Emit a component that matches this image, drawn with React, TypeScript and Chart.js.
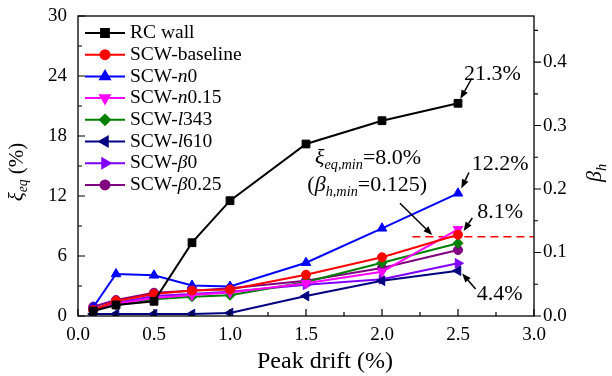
import React, { useEffect, useRef } from 'react';
import { Chart, registerables } from 'chart.js';
import { drawPoint } from 'chart.js/helpers';

Chart.register(...registerables);

// ---- data ----
const drift = [0.1, 0.25, 0.5, 0.75, 1.0, 1.5, 2.0, 2.5];
const rcWall = [0.5, 1.1, 1.47, 7.33, 11.53, 17.2, 19.53, 21.27];
const scwBaseline = [0.6, 1.5, 2.2, 2.55, 2.65, 4.13, 5.87, 8.13];
const scwN0 = [0.87, 4.2, 4.07, 3.05, 2.95, 5.33, 8.77, 12.27];
const scwN015 = [0.55, 1.2, 1.8, 2.1, 2.35, 3.27, 4.43, 8.67];
const scwL343 = [0.7, 1.07, 1.67, 1.93, 2.07, 3.4, 5.33, 7.27];
const scwL610 = [0.2, 0.2, 0.2, 0.2, 0.3, 2.0, 3.53, 4.53];
const scwBeta0 = [0.7, 1.3, 2.0, 2.2, 2.43, 3.13, 3.67, 5.27];
const scwBeta025 = [0.93, 1.6, 2.33, 2.53, 2.77, 3.53, 4.8, 6.6];

const seriesValues = [rcWall, scwBaseline, scwN0, scwN015, scwL343, scwL610, scwBeta0, scwBeta025];
const seriesNames = ['RC wall', 'SCW-baseline', 'SCW-n0', 'SCW-n0.15', 'SCW-l343', 'SCW-l610', 'SCW-β0', 'SCW-β0.25'];
const seriesColors = ['#000000', '#ff0000', '#0000ff', '#ff00ff', '#008000', '#000080', '#8000ff', '#800080'];
const seriesPointStyles = ['rect', 'circle', 'triangle', 'triangle', 'rectRot', 'triangle', 'triangle', 'circle'];
const seriesRotations = [0, 0, 0, 180, 0, -90, 90, 0];
const seriesRadii = [5.5, 4.5, 5.5, 5.5, 5, 5.5, 5.5, 4.5];

const xTickStep = 0.5;
const yTickStep = 6;
const y2TickStep = 0.1;
const xMax = 3;
const yMax = 30;
const y2Max = 0.4725;

const limitBeta = 0.125;
const limitStart = 2.2;

const pctLabels = ['21.3%', '12.2%', '8.1%', '4.4%'];
// text anchor [x, ξ] (left-middle) and arrow [x1, ξ1, x2, ξ2] in data units
const pctLabelPos = [[2.54, 24.2], [2.59, 15.2], [2.627, 10.4], [2.623, 2.15]];
const pctArrows = [
  [2.59, 23.75, 2.515, 21.7],
  [2.572, 14.35, 2.522, 12.75],
  [2.594, 9.8, 2.537, 8.5],
  [2.616, 2.7, 2.527, 4.25],
];
const minNotePos = [[1.559, 15.8], [1.509, 13.1]];
const minNoteArrow = [2.118, 11.27, 2.331, 8.1];

// ---- helpers ----
type Seg = { t: string; it?: boolean; sub?: boolean };
const FAMILY = '"Liberation Serif", "Times New Roman", serif';

function segFont(s: Seg, size: number) {
  const sz = s.sub ? size * 0.65 : size;
  return `${s.it ? 'italic ' : ''}${sz}px ${FAMILY}`;
}

function drawRich(ctx: CanvasRenderingContext2D, segs: Seg[], x: number, y: number, size: number, align: 'left' | 'center') {
  ctx.textBaseline = 'middle';
  ctx.textAlign = 'left';
  let w = 0;
  const widths = segs.map((s) => {
    ctx.font = segFont(s, size);
    const m = ctx.measureText(s.t).width;
    w += m;
    return m;
  });
  let cx = align === 'center' ? x - w / 2 : x;
  segs.forEach((s, i) => {
    ctx.font = segFont(s, size);
    ctx.fillText(s.t, cx, y + (s.sub ? size * 0.32 : 0));
    cx += widths[i];
  });
}

function parseName(name: string): Seg[] {
  if (name.startsWith('SCW-') && 'nlβ'.includes(name[4])) {
    return [{ t: 'SCW-' }, { t: name[4], it: true }, { t: name.slice(5) }];
  }
  return [{ t: name }];
}

function arrow(ctx: CanvasRenderingContext2D, x1: number, y1: number, x2: number, y2: number) {
  const ang = Math.atan2(y2 - y1, x2 - x1);
  const len = 9;
  const hw = 3.5;
  const bx = x2 - len * Math.cos(ang);
  const by = y2 - len * Math.sin(ang);
  ctx.beginPath();
  ctx.moveTo(x1, y1);
  ctx.lineTo(bx, by);
  ctx.lineWidth = 1.5;
  ctx.stroke();
  ctx.beginPath();
  ctx.moveTo(x2, y2);
  ctx.lineTo(bx + hw * Math.sin(ang), by - hw * Math.cos(ang));
  ctx.lineTo(bx - hw * Math.sin(ang), by + hw * Math.cos(ang));
  ctx.closePath();
  ctx.fill();
}

const decorPlugin = {
  id: 'decor',
  afterDraw(chart: any) {
    const ctx: CanvasRenderingContext2D = chart.ctx;
    const { left, right, top, bottom } = chart.chartArea;
    const xs = chart.scales.x;
    const ys = chart.scales.y;
    const y2s = chart.scales.y2;
    ctx.save();
    ctx.strokeStyle = '#000';
    ctx.fillStyle = '#000';
    ctx.lineWidth = 1.3;
    ctx.strokeRect(left, top, right - left, bottom - top);

    // ticks
    ctx.lineWidth = 1.2;
    ctx.beginPath();
    for (let v = 0; v <= xMax + 1e-9; v += xTickStep / 2) {
      const px = xs.getPixelForValue(v);
      const major = Math.abs(v / xTickStep - Math.round(v / xTickStep)) < 1e-6;
      ctx.moveTo(px, bottom);
      ctx.lineTo(px, bottom - (major ? 7 : 4));
    }
    for (let v = 0; v <= yMax + 1e-9; v += yTickStep / 2) {
      const py = ys.getPixelForValue(v);
      const major = Math.abs(v / yTickStep - Math.round(v / yTickStep)) < 1e-6;
      ctx.moveTo(left, py);
      ctx.lineTo(left + (major ? 7 : 4), py);
    }
    for (let v = 0; v <= y2Max + 1e-9; v += y2TickStep / 2) {
      const py = y2s.getPixelForValue(v);
      const major = Math.abs(v / y2TickStep - Math.round(v / y2TickStep)) < 1e-6;
      ctx.moveTo(right, py);
      ctx.lineTo(right + (major ? 7 : 4), py);
    }
    ctx.stroke();

    // legend
    const ds = chart.data.datasets;
    for (let i = 0; i < seriesNames.length; i++) {
      const d = ds[i];
      const ly = top + 17 + i * 21.7;
      const lx = left + 7;
      ctx.strokeStyle = d.borderColor;
      ctx.fillStyle = d.backgroundColor;
      ctx.lineWidth = 2;
      ctx.beginPath();
      ctx.moveTo(lx, ly);
      ctx.lineTo(lx + 40, ly);
      ctx.stroke();
      drawPoint(ctx, { pointStyle: d.pointStyle, rotation: d.rotation, radius: d.pointRadius, borderWidth: 1 }, lx + 20, ly);
      ctx.fillStyle = '#000';
      drawRich(ctx, parseName(seriesNames[i]), lx + 45, ly, 19.5, 'left');
    }

    // axis titles
    ctx.fillStyle = '#000';
    drawRich(ctx, [{ t: 'Peak drift (%)' }], 325, 362, 24, 'center');
    ctx.save();
    ctx.translate(17, 172);
    ctx.rotate(-Math.PI / 2);
    drawRich(ctx, [{ t: 'ξ', it: true }, { t: 'eq', it: true, sub: true }, { t: ' (%)' }], 0, 0, 21, 'center');
    ctx.restore();
    ctx.save();
    ctx.translate(595, 173);
    ctx.rotate(-Math.PI / 2);
    drawRich(ctx, [{ t: 'β', it: true }, { t: 'h', it: true, sub: true }], 0, 0, 22, 'center');
    ctx.restore();

    // annotations
    ctx.strokeStyle = '#000';
    ctx.fillStyle = '#000';
    pctLabels.forEach((t, i) => {
      const [tx, ty] = pctLabelPos[i];
      drawRich(ctx, [{ t }], xs.getPixelForValue(tx), ys.getPixelForValue(ty), 22, 'left');
      const a = pctArrows[i];
      arrow(ctx, xs.getPixelForValue(a[0]), ys.getPixelForValue(a[1]), xs.getPixelForValue(a[2]), ys.getPixelForValue(a[3]));
    });
    drawRich(
      ctx,
      [{ t: 'ξ', it: true }, { t: 'eq,min', it: true, sub: true }, { t: '=8.0%' }],
      xs.getPixelForValue(minNotePos[0][0]),
      ys.getPixelForValue(minNotePos[0][1]),
      22,
      'left'
    );
    drawRich(
      ctx,
      [{ t: '(' }, { t: 'β', it: true }, { t: 'h,min', it: true, sub: true }, { t: '=0.125)' }],
      xs.getPixelForValue(minNotePos[1][0]),
      ys.getPixelForValue(minNotePos[1][1]),
      22,
      'left'
    );
    arrow(
      ctx,
      xs.getPixelForValue(minNoteArrow[0]),
      ys.getPixelForValue(minNoteArrow[1]),
      xs.getPixelForValue(minNoteArrow[2]),
      ys.getPixelForValue(minNoteArrow[3])
    );
    ctx.restore();
  },
};

export default function App() {
  const ref = useRef<HTMLCanvasElement | null>(null);

  useEffect(() => {
    document.body.style.margin = '0';
    const canvas = ref.current;
    if (!canvas) return;
    const tickFont = { family: FAMILY, size: 19 };
    const datasets: any[] = seriesValues.map((vals, i) => ({
      label: seriesNames[i],
      data: drift.map((x, j) => ({ x, y: vals[j] })),
      borderColor: seriesColors[i],
      backgroundColor: seriesColors[i],
      pointBackgroundColor: seriesColors[i],
      pointBorderColor: seriesColors[i],
      borderWidth: 2,
      pointStyle: seriesPointStyles[i],
      rotation: seriesRotations[i],
      pointRadius: seriesRadii[i],
      pointBorderWidth: 1,
      yAxisID: 'y',
      tension: 0,
    }));
    datasets.push({
      label: 'limit',
      data: [
        { x: limitStart, y: limitBeta },
        { x: xMax, y: limitBeta },
      ],
      borderColor: '#ff0000',
      borderWidth: 1.5,
      borderDash: [8, 5],
      pointRadius: 0,
      yAxisID: 'y2',
    });
    const fitY = (s: any) => {
      s.width = 78;
      s.paddingTop = 0;
      s.paddingBottom = 0;
    };
    const chart = new Chart(canvas, {
      type: 'line',
      data: { datasets },
      options: {
        animation: false,
        responsive: false,
        devicePixelRatio: 1,
        layout: { padding: { top: 16, left: 0, right: 0, bottom: 0 } },
        plugins: { legend: { display: false }, tooltip: { enabled: false } },
        scales: {
          x: {
            type: 'linear',
            min: 0,
            max: xMax,
            grid: { display: false, drawTicks: false },
            border: { display: false },
            ticks: {
              stepSize: xTickStep,
              includeBounds: false,
              autoSkip: false,
              maxRotation: 0,
              padding: 8,
              color: '#000',
              font: tickFont,
              callback: (v: any) => Number(v).toFixed(1),
            },
            afterFit: (s: any) => {
              s.height = 60;
              s.paddingLeft = 0;
              s.paddingRight = 0;
            },
          },
          y: {
            type: 'linear',
            position: 'left',
            min: 0,
            max: yMax,
            grid: { display: false, drawTicks: false },
            border: { display: false },
            ticks: {
              stepSize: yTickStep,
              includeBounds: false,
              padding: 11,
              color: '#000',
              font: tickFont,
            },
            afterFit: fitY,
          },
          y2: {
            type: 'linear',
            position: 'right',
            min: 0,
            max: y2Max,
            grid: { display: false, drawTicks: false },
            border: { display: false },
            ticks: {
              stepSize: y2TickStep,
              includeBounds: false,
              padding: 9,
              color: '#000',
              font: tickFont,
              callback: (v: any) => Number(v).toFixed(1),
            },
            afterFit: fitY,
          },
        },
      },
      plugins: [decorPlugin],
    });
    return () => chart.destroy();
  }, []);

  return (
    <div style={{ width: 612, height: 376 }}>
      <canvas ref={ref} width={612} height={376} style={{ display: 'block' }} />
    </div>
  );
}
